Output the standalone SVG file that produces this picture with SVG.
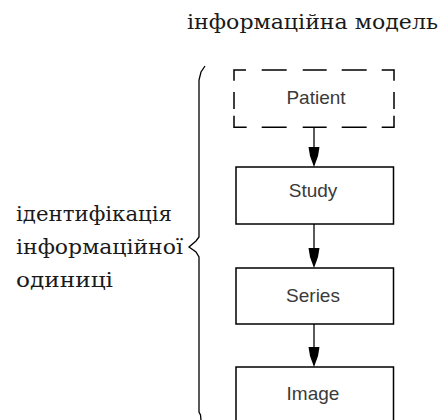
<svg xmlns="http://www.w3.org/2000/svg" width="441" height="420" viewBox="0 0 441 420">
<style>
.lbl{font-family:"DejaVu Serif","Liberation Serif",serif;font-size:21px;fill:#1a1a1a}
.box{fill:#fff;stroke:#000;stroke-width:1.5}
.dash{fill:none;stroke:#000;stroke-width:1.5}
.nt{font-family:"Liberation Sans",Arial,sans-serif;font-size:19px;fill:#3a3a3a;text-anchor:middle}
.ln{stroke:#000;stroke-width:1.3;fill:none}
.ah{fill:#000}
</style>
<rect width="441" height="420" fill="#fff"/>
<text class="lbl" x="187" y="29" textLength="251" lengthAdjust="spacingAndGlyphs">інформаційна модель</text>
<g id="label-left">
<text class="lbl" x="16" y="221" textLength="156" lengthAdjust="spacingAndGlyphs">ідентифікація</text>
<text class="lbl" x="16" y="254" textLength="167" lengthAdjust="spacingAndGlyphs">інформаційної</text>
<text class="lbl" x="16" y="287" textLength="97" lengthAdjust="spacingAndGlyphs">одиниці</text>
</g>
<g id="brace">
<path class="ln" d="M205,66 L201,72 L199,80 L199,237 L196,241 L189,247 L196,252 L199,257 L199,412 L200.5,415 L201,420"/>
</g>
<g id="connectors">
<line class="ln" x1="314" y1="128" x2="314" y2="160"/>
<path class="ah" d="M308.5,147 L319.5,147 L318,156 L314,167 L310,156 Z"/>
<line class="ln" x1="314" y1="224" x2="314" y2="260"/>
<path class="ah" d="M308.5,248 L319.5,248 L318,257 L314,268 L310,257 Z"/>
<line class="ln" x1="314" y1="324" x2="314" y2="360"/>
<path class="ah" d="M308.5,347 L319.5,347 L318,356 L314,367 L310,356 Z"/>
</g>
<g id="patient">
<path class="dash" d="M234,80.7 V70 H246 M261.7,70 H286.7 M302.7,70 H326.7 M341.7,70 H366.7 M381.7,70 H394 V80.7 M394,92 V109 M394,115.7 V127.3 H381.7 M366.7,127.3 H341.7 M326.7,127.3 H302.7 M286.7,127.3 H261.7 M246.7,127.3 H234 V115.7 M234,109 V92"/>
<text class="nt" x="316" y="104">Patient</text>
</g>
<g id="study">
<rect class="box" x="236" y="167" width="157.5" height="57"/>
<text class="nt" x="313" y="197">Study</text>
</g>
<g id="series">
<rect class="box" x="236" y="268" width="157.5" height="56"/>
<text class="nt" x="313" y="302">Series</text>
</g>
<g id="image">
<rect class="box" x="236" y="367" width="157.5" height="70"/>
<text class="nt" x="313" y="400">Image</text>
</g>
</svg>
